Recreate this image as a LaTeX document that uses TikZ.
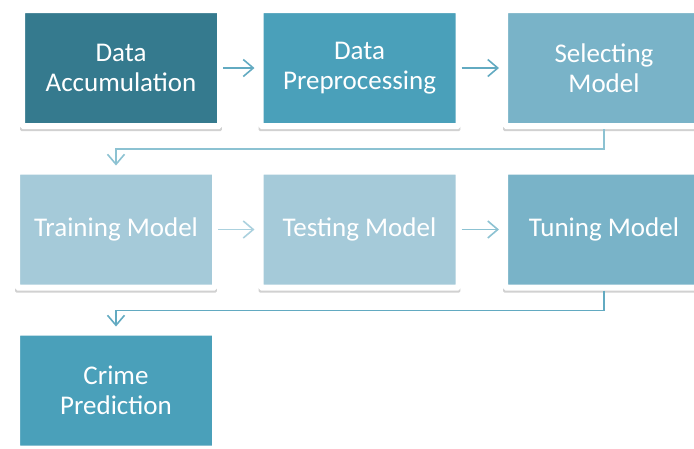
\documentclass[tikz,border=0pt]{standalone}
\usepackage{fontspec}
\setmainfont{Carlito}
\usetikzlibrary{shadows,arrows.meta}
\definecolor{tealdark}{HTML}{357A8E}
\definecolor{tealmid}{HTML}{4AA0BA}
\definecolor{tealsoft}{HTML}{79B3C8}
\definecolor{teallight}{HTML}{A5CAD9}
\definecolor{linkmid}{HTML}{62AAC1}
\definecolor{linksoft}{HTML}{8CC2D2}
\definecolor{linklight}{HTML}{ABD1DE}
\tikzset{
  stage/.style={draw=white, line width=6pt, rounded corners=1.5pt,
    minimum width=198pt, minimum height=116pt, text=white, align=center,
    font=\fontsize{27}{29.5}\selectfont,
    drop shadow={shadow xshift=0pt, shadow yshift=-4pt, shadow scale=1.02,
      opacity=0.3, fill=black!60}},
  link/.style={line width=1.6pt, -{Straight Barb[length=10pt,width=17pt]}, shorten >=3pt}
}

\begin{document}
\begin{tikzpicture}[x=1pt,y=-1pt]
  \useasboundingbox (0,0) rectangle (694,448);
  % first row
  \node[stage, fill=tealdark] (acc) at (121,68) {Data\\Accumulation};
  \node[stage, fill=tealmid] (prep) at (359.5,68) {Data\\Preprocessing};
  \node[stage, fill=tealsoft] (sel) at (604,68) {Selecting\\Model};
  % second row
  \node[stage, fill=teallight] (train) at (116,229.5) {Training Model};
  \node[stage, fill=teallight] (test) at (359.5,229.5) {Testing Model};
  \node[stage, fill=tealsoft] (tune) at (604,229.5) {Tuning Model};
  % last row
  \node[stage, fill=tealmid] (crime) at (116,390.5) {Crime\\Prediction};

  \draw[link, linkmid] (acc) -- (prep);
  \draw[link, linkmid] (prep) -- (sel);
  \draw[link, linksoft] (sel.south) -- ++(0,20) -| (train.north);
  \draw[link, linklight] (train) -- (test);
  \draw[link, linksoft] (test) -- (tune);
  \draw[link, linkmid] (tune.south) -- ++(0,20) -| (crime.north);
\end{tikzpicture}
\end{document}
